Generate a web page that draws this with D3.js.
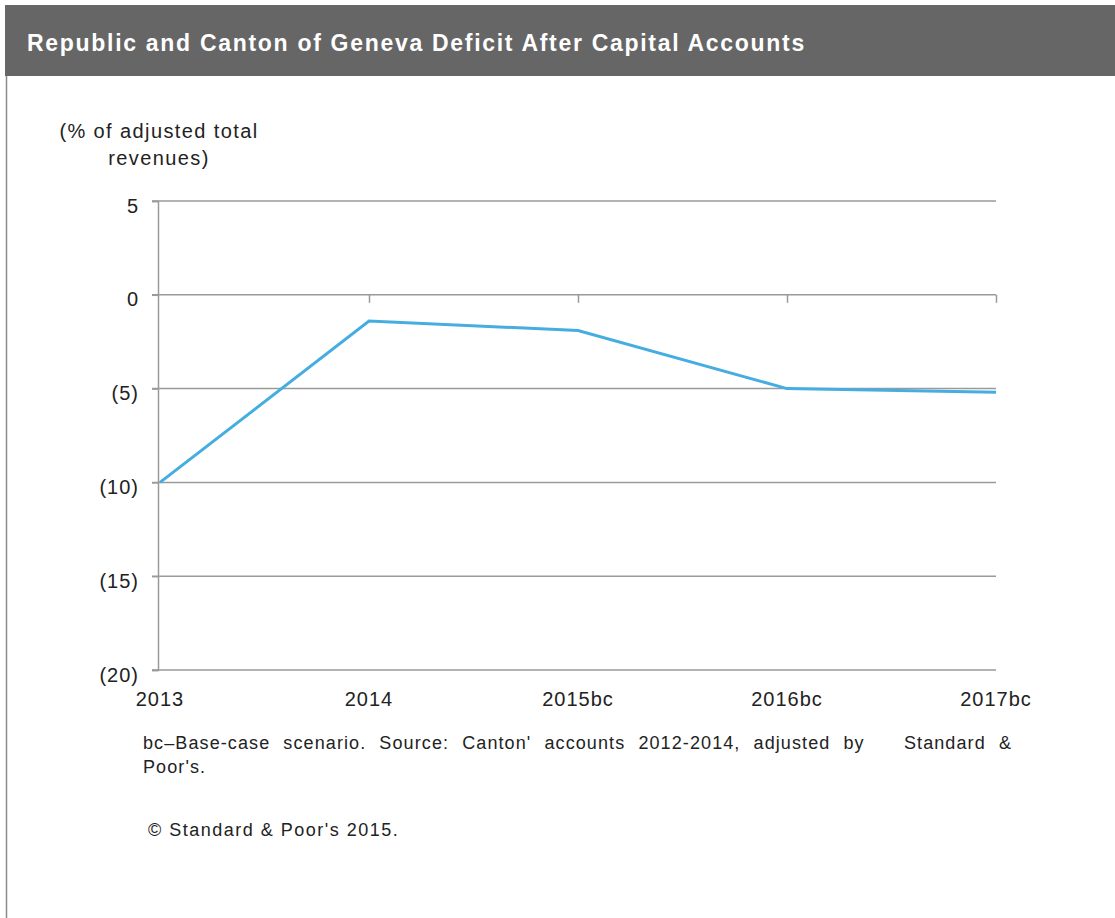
<!DOCTYPE html>
<head>
<meta charset="utf-8">
<script src="https://cdn.jsdelivr.net/npm/d3@7"></script>
<style>
body { margin: 0; background: #fff; }
svg { position: absolute; left: 0; top: 0; }
text { font-family: "Liberation Sans", Arial, sans-serif; }
#note {
  position: absolute;
  left: 143px;
  top: 731px;
  width: 869px;
  font-family: "Liberation Sans", Arial, sans-serif;
  font-size: 18px;
  letter-spacing: 1.1px;
  line-height: 24px;
  color: #222;
}
#note .l1 { text-align: justify; text-align-last: justify; }
</style>
</head>
<body>
<div id="note"><div class="l1">bc&#8211;Base-case scenario. Source: Canton' accounts 2012-2014, adjusted by&nbsp;&nbsp; Standard &amp;</div><div>Poor's.</div></div>
<script>

// chart data
var years  = ["2013", "2014", "2015bc", "2016bc", "2017bc"]
var deficit = [-10, -1.4, -1.9, -5.0, -5.2]
var yTicks = [5, 0, -5, -10, -15, -20]

var W = 1115, H = 918
var margin = {top: 201, right: 119, bottom: 248, left: 158}

var svg = d3.select("body").append("svg")
    .attr("width", W)
    .attr("height", H)

// header bar + frame
svg.append("rect")
    .attr("x", 5).attr("y", 5)
    .attr("width", W - 5).attr("height", 71)
    .attr("fill", "#666666")
svg.append("line")
    .attr("x1", 6.5).attr("x2", 6.5)
    .attr("y1", 76).attr("y2", H)
    .attr("stroke", "#8a8a8a").attr("stroke-width", 1.5)

svg.append("text")
    .attr("x", 27).attr("y", 51)
    .style("font-size", "23px")
    .style("font-weight", "bold")
    .style("letter-spacing", "1.7px")
    .style("fill", "#fff")
    .text("Republic and Canton of Geneva Deficit After Capital Accounts")

var x = d3.scalePoint()
    .domain(years)
    .range([margin.left + 2, W - margin.right])

var y = d3.scaleLinear()
    .domain([-20, 5])
    .range([H - margin.bottom, margin.top])

var fmt = v => v < 0 ? "(" + Math.abs(v) + ")" : String(v)

// gridlines
svg.append("g")
    .selectAll("line")
    .data(yTicks)
    .enter().append("line")
        .attr("x1", margin.left - 6)
        .attr("x2", W - margin.right)
        .attr("y1", d => y(d))
        .attr("y2", d => y(d))
        .attr("stroke", "#9a9a9a")
        .attr("stroke-width", 1.5)

// y axis
var yAxis = svg.append("g")
    .attr("transform", `translate(${margin.left},0)`)
    .call(d3.axisLeft(y).tickValues(yTicks).tickFormat(fmt).tickSize(6))
yAxis.select(".domain").attr("stroke", "#9a9a9a").attr("stroke-width", 1.5)
yAxis.selectAll(".tick line").attr("stroke", "#9a9a9a").attr("stroke-width", 1.5)
yAxis.selectAll(".tick text")
    .attr("x", -19)
    .attr("dy", "0.55em")
    .style("font-size", "20px")
    .style("letter-spacing", "1px")
    .style("fill", "#222")
    .style("font-family", "Liberation Sans, Arial, sans-serif")

// category axis crossing at zero
var xAxis = svg.append("g")
    .attr("transform", `translate(0,${y(0)})`)
    .call(d3.axisBottom(x).tickSize(8).tickFormat(""))
xAxis.select(".domain").remove()
xAxis.selectAll(".tick line").attr("stroke", "#9a9a9a").attr("stroke-width", 1.5)
xAxis.selectAll(".tick").filter(d => d == years[0]).remove()

// category labels at the bottom
svg.append("g")
    .selectAll("text")
    .data(years)
    .enter().append("text")
        .attr("x", d => x(d))
        .attr("y", H - margin.bottom + 36)
        .attr("text-anchor", "middle")
        .style("font-size", "20px")
        .style("letter-spacing", "1px")
        .style("fill", "#222")
        .text(d => d)

// line
var line = d3.line()
    .x((d, i) => x(years[i]))
    .y(d => y(d))

svg.append("path")
    .datum(deficit)
    .attr("d", line)
    .attr("fill", "none")
    .attr("stroke", "#45ade0")
    .attr("stroke-width", 3)

// axis title
svg.append("text")
    .attr("text-anchor", "middle")
    .style("font-size", "20px")
    .style("letter-spacing", "1.4px")
    .style("fill", "#222")
    .selectAll("tspan")
    .data(["(% of adjusted total", "revenues)"])
    .enter().append("tspan")
        .attr("x", 159)
        .attr("y", (d, i) => 138 + i * 27)
        .text(d => d)

// copyright
svg.append("text")
    .attr("x", 148).attr("y", 836)
    .style("font-size", "18px")
    .style("letter-spacing", "1.5px")
    .style("fill", "#222")
    .text("\u00a9 Standard & Poor's 2015.")

</script>
</body>
</html>
